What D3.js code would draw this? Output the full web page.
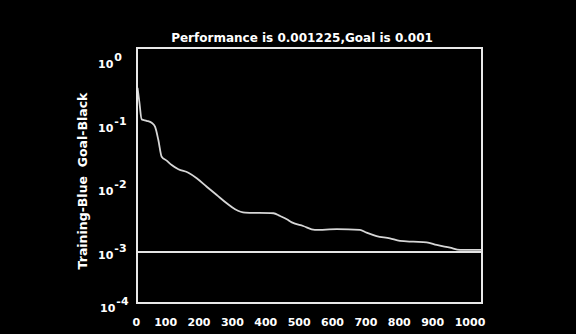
<!DOCTYPE html>
<html>
<head>
<meta charset="utf-8">
<script src="https://cdn.jsdelivr.net/npm/d3@7/dist/d3.min.js"></script>
<style>
  html, body { margin: 0; padding: 0; background: #000; }
  svg { display: block; }
</style>
</head>
<body>
<svg id="chart" width="576" height="334"></svg>
<script>
const titleText = "Performance is 0.001225,Goal is 0.001";
const yLabelText = "Training-Blue  Goal-Black";
const xTicks = [0, 100, 200, 300, 400, 500, 600, 700, 800, 900, 1000];
const yTicks = [1, 0.1, 0.01, 0.001];
const yTickExps = ["0", "-1", "-2", "-3"];
const yBottomExp = "-4";
const goalValue = 0.001;
const epochs = [15.6, 21, 28, 43, 58, 68, 78, 88, 103, 118, 138, 168, 193, 223, 253, 283, 308, 338, 423, 443, 463, 478, 512, 547, 613, 682, 702, 732, 772, 802, 842, 882, 912, 952, 982, 1045];
const trainPerf = [0.38, 0.229, 0.121, 0.115, 0.107, 0.093, 0.0574, 0.0314, 0.0272, 0.0232, 0.0199, 0.0176, 0.0144, 0.0106, 0.00785, 0.00582, 0.00469, 0.00414, 0.00406, 0.00367, 0.00327, 0.00292, 0.00256, 0.00222, 0.00228, 0.00222, 0.00201, 0.00178, 0.00164, 0.00149, 0.00145, 0.00142, 0.00129, 0.00117, 0.00108, 0.00108];

const svg = d3.select("#chart");
svg.append("rect").attr("width", 576).attr("height", 334).attr("fill", "#000");

const x = d3.scaleLinear().domain([14, 1048]).range([137, 482]);
const y = d3.scaleLog().domain([1.58e-4, 1.6]).range([303, 48]);

const font = "'DejaVu Sans', sans-serif";

// goal line
svg.append("line")
  .attr("x1", x.range()[0]).attr("x2", x.range()[1])
  .attr("y1", y(goalValue)).attr("y2", y(goalValue))
  .attr("stroke", "#e4e4e4").attr("stroke-width", 2);

// training curve
const line = d3.line().x((d, i) => x(epochs[i])).y(d => y(d)).curve(d3.curveMonotoneX);
svg.append("path")
  .datum(trainPerf)
  .attr("d", line)
  .attr("fill", "none")
  .attr("stroke", "#d6d6d6")
  .attr("stroke-width", 1.8)
  .attr("stroke-linejoin", "round");

// frame
svg.append("rect")
  .attr("x", x.range()[0]).attr("y", y.range()[1])
  .attr("width", x.range()[1] - x.range()[0])
  .attr("height", y.range()[0] - y.range()[1])
  .attr("fill", "none").attr("stroke", "#e8e8e8").attr("stroke-width", 2);

// title
svg.append("text")
  .attr("x", 302).attr("y", 42)
  .attr("text-anchor", "middle")
  .attr("fill", "#fff").attr("font-family", font)
  .attr("font-weight", "bold").attr("font-size", 12)
  .text(titleText);

// x tick labels
svg.append("g").selectAll("text").data(xTicks).join("text")
  .attr("x", d => x(d) + (d === 0 || d === 1000 ? 4 : 0))
  .attr("y", 326)
  .attr("text-anchor", "middle")
  .attr("fill", "#fff").attr("font-family", font)
  .attr("font-weight", "bold").attr("font-size", 11)
  .text(d => d);

// y tick labels
const yl = svg.append("g");
yTicks.forEach((t, i) => {
  const tx = yl.append("text")
    .attr("x", 98).attr("y", y(t) + 7)
    .attr("fill", "#fff").attr("font-family", font)
    .attr("font-weight", "bold").attr("font-size", 11);
  tx.append("tspan").text("10");
  tx.append("tspan").attr("dy", -7).attr("dx", 1).attr("font-size", 11).text(yTickExps[i]);
});
{
  const tx = yl.append("text")
    .attr("x", 100).attr("y", y.range()[0] + 9)
    .attr("fill", "#fff").attr("font-family", font)
    .attr("font-weight", "bold").attr("font-size", 11);
  tx.append("tspan").text("10");
  tx.append("tspan").attr("dy", -7).attr("dx", 1).attr("font-size", 11).text(yBottomExp);
}

// y label
svg.append("text")
  .attr("transform", "translate(87,181) rotate(-90)")
  .attr("text-anchor", "middle")
  .attr("fill", "#fff").attr("font-family", font)
  .attr("font-weight", "bold").attr("font-size", 12.5)
  .style("white-space", "pre")
  .text(yLabelText);
</script>
</body>
</html>
